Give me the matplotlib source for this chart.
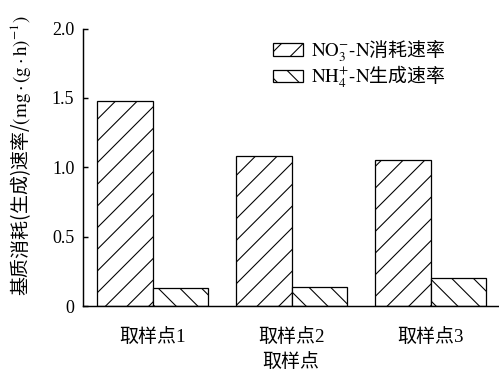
import matplotlib
matplotlib.use('Agg')
import matplotlib.pyplot as plt
import numpy as np

# 数据
sites = ['取样点1', '取样点2', '取样点3']
no3_rate = [1.48, 1.08, 1.05]   # NO3--N 消耗速率
nh4_rate = [0.13, 0.14, 0.20]   # NH4+-N 生成速率
y_ticks = [0, 0.5, 1.0, 1.5, 2.0]
y_tick_labels = ['0', '0.5', '1.0', '1.5', '2.0']

plt.rcParams['font.family'] = ['Liberation Serif', 'Noto Sans CJK SC']
plt.rcParams['mathtext.fontset'] = 'stix'
plt.rcParams['hatch.linewidth'] = 0.6
plt.rcParams['hatch.color'] = 'black'

DPI = 130
fig = plt.figure(figsize=(499 / DPI, 371 / DPI), dpi=DPI)
ax = fig.add_axes([0.167, 0.175, 0.833, 0.748])

x = np.arange(len(sites))
w = 0.40
ax.bar(x - w / 2, no3_rate, w, facecolor='white', edgecolor='black',
       linewidth=0.7, hatch='//', label=r'$\mathrm{NO_3^{-}\text{-}N}$消耗速率')
ax.bar(x + w / 2, nh4_rate, w, facecolor='white', edgecolor='black',
       linewidth=0.7, hatch='\\\\', label=r'$\mathrm{NH_4^{+}\text{-}N}$生成速率')

ax.set_xlim(-0.50, 2.49)
ax.set_ylim(0, 2.0)
ax.set_xticks(x)
ax.set_xticklabels(sites, fontsize=10.5)
ax.set_yticks(y_ticks)
ax.set_yticklabels(y_tick_labels, fontsize=10)
ax.tick_params(axis='y', direction='in', length=2.8, width=0.8, pad=5)
ax.tick_params(axis='x', length=0, pad=12)

for s in ['top', 'right']:
    ax.spines[s].set_visible(False)
for s in ['left', 'bottom']:
    ax.spines[s].set_linewidth(0.8)

ax.set_xlabel('取样点', fontsize=10.5, family=['Noto Sans CJK SC'], labelpad=3)
ax.set_ylabel(r'基质消耗(生成)速率/$\mathrm{(mg\cdot(g\cdot h)^{-1})}$',
              fontsize=10.5, family=['Noto Sans CJK SC'])
ax.yaxis.set_label_coords(-0.12, 0.54)

ax.legend(loc='upper left', bbox_to_anchor=(0.4556, 0.965), frameon=False,
          prop={'family': ['Noto Sans CJK SC'], 'size': 10.5},
          handlelength=1.6, handleheight=0.65, handletextpad=0.4,
          labelspacing=0.0, borderpad=0, borderaxespad=0)

fig.savefig('out.png', dpi=DPI)
